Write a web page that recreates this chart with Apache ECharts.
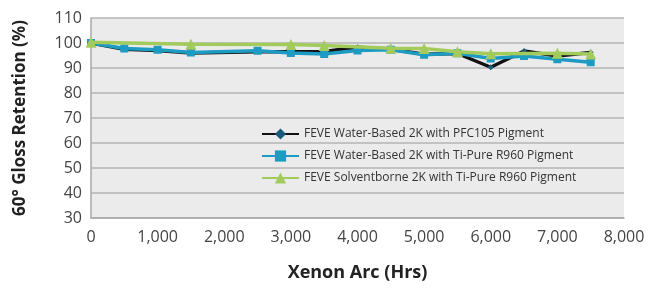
<!DOCTYPE html>
<html><head><meta charset="utf-8">
<script src="https://cdn.jsdelivr.net/npm/echarts@6/dist/echarts.min.js"></script>
<style>html,body{margin:0;padding:0;background:#fff}#c{width:659px;height:288px}</style>
</head><body><div id="c"></div>
<script>
const seriesNames = [
  'FEVE Water-Based 2K with PFC105 Pigment',
  'FEVE Water-Based 2K with Ti-Pure R960 Pigment',
  'FEVE Solventborne 2K with Ti-Pure R960 Pigment'
];
const pfc105 = [[0,100],[500,97.5],[1000,97],[1500,96],[2500,96.5],[3000,96.5],[3500,96.6],[4000,98.3],[4500,97.5],[5000,95.5],[5500,95.8],[6000,90.3],[6500,96.8],[7000,94.8],[7500,96.2]];
const r960Water = [[0,100],[500,97.8],[1000,97.3],[1500,96.2],[2500,96.9],[3000,96],[3500,95.6],[4000,97],[4500,97.3],[5000,95.3],[5500,95.9],[6000,93.8],[6500,94.8],[7000,93.5],[7500,92.3]];
const r960Solvent = [[0,100.3],[1500,99.5],[3000,99.4],[3500,99],[4500,97.9],[5000,97.8],[5500,96.5],[6000,95.7],[7000,95.9],[7500,95.6]];
const xTitle = 'Xenon Arc (Hrs)';
const yTitle = '60° Gloss Retention (%)';

const font = '"Open Sans", "Noto Sans", sans-serif';
const chart = echarts.init(document.getElementById('c'));
chart.setOption({
  animation: false,
  grid: { left: 91, right: 35, top: 18, bottom: 70, show: true, backgroundColor: '#ebebeb', borderWidth: 0 },
  legend: {
    orient: 'vertical', left: 256, top: 123, itemWidth: 37, itemHeight: 14, itemGap: 10,
    textStyle: { fontFamily: font, fontSize: 12, color: '#333' },
    data: seriesNames
  },
  xAxis: {
    type: 'value', min: 0, max: 8000, interval: 1000,
    name: xTitle, nameLocation: 'middle', nameGap: 46,
    nameTextStyle: { fontFamily: font, fontSize: 18, fontWeight: 'bold', color: '#222' },
    axisLine: { show: true, lineStyle: { color: '#a8a8a8', width: 1.5 } },
    axisTick: { show: false },
    splitLine: { show: false },
    axisLabel: { fontFamily: font, fontSize: 16, color: '#444', margin: 11,
      formatter: v => v.toLocaleString('en-US') }
  },
  yAxis: {
    type: 'value', min: 30, max: 110, interval: 10,
    name: yTitle, nameLocation: 'middle', nameGap: 62, nameRotate: 90,
    nameTextStyle: { fontFamily: font, fontSize: 17, fontWeight: 'bold', color: '#222' },
    axisLine: { show: true, lineStyle: { color: '#a8a8a8', width: 1.5 } },
    axisTick: { show: false },
    splitLine: { show: true, lineStyle: { color: '#b4b4b4', width: 1.5 } },
    axisLabel: { fontFamily: font, fontSize: 16, color: '#444', margin: 9 }
  },
  series: [
    { name: seriesNames[0], type: 'line', data: pfc105, symbol: 'diamond', symbolSize: 6,
      lineStyle: { color: '#111', width: 3.5 }, itemStyle: { color: '#1a5a7a' }, z: 3 },
    { name: seriesNames[1], type: 'line', data: r960Water, symbol: 'rect', symbolSize: 8,
      lineStyle: { color: '#1d9bc2', width: 3.5 }, itemStyle: { color: '#1d9bc2' }, z: 4 },
    { name: seriesNames[2], type: 'line', data: r960Solvent, symbol: 'triangle', symbolSize: 11,
      lineStyle: { color: '#a2cb5c', width: 3.5 }, itemStyle: { color: '#a2cb5c' }, z: 5 }
  ]
});
</script></body></html>
